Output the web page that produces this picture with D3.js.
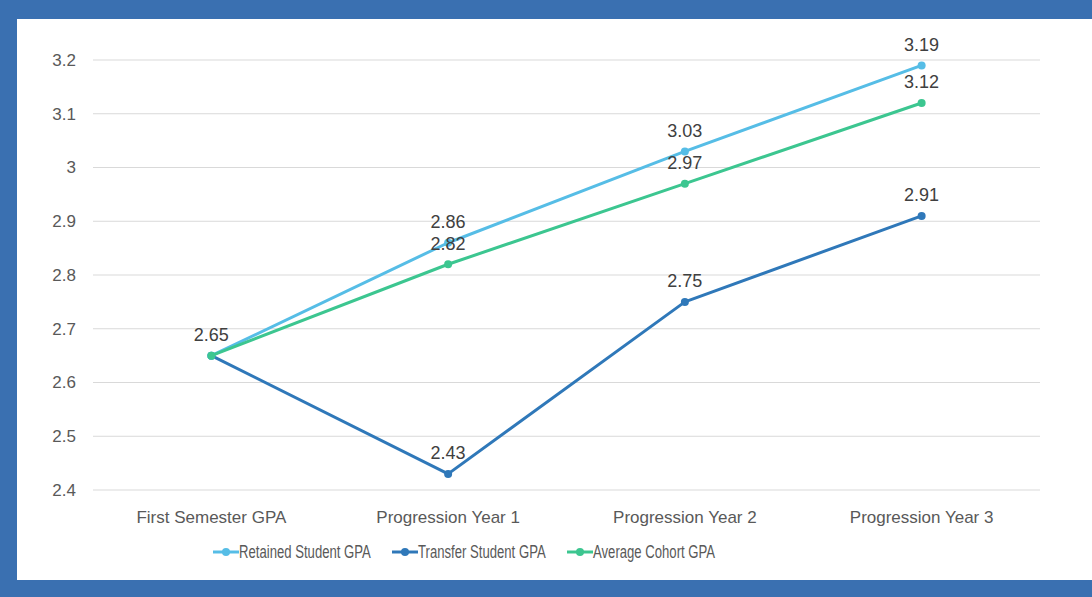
<!DOCTYPE html>
<html><head><meta charset="utf-8">
<script src="https://cdn.jsdelivr.net/npm/d3@7"></script>
<style>body{margin:0;background:#fff}svg{display:block}</style>
</head><body><svg id="c" width="1092" height="597"></svg>
<script>
const categories = ["First Semester GPA","Progression Year 1","Progression Year 2","Progression Year 3"];
const retained = [2.65, 2.86, 3.03, 3.19];
const transfer = [2.65, 2.43, 2.75, 2.91];
const average = [2.65, 2.82, 2.97, 3.12];
const yTicks = [2.4, 2.5, 2.6, 2.7, 2.8, 2.9, 3, 3.1, 3.2];
const seriesNames = ["Retained Student GPA","Transfer Student GPA","Average Cohort GPA"];
const colors = ["#56bde6","#2f78b9","#3cc690"];

const svg = d3.select("#c");
const W = 1092, H = 597;
svg.append("rect").attr("width",W).attr("height",H).attr("fill","#3a70b1");
svg.append("rect").attr("x",17).attr("y",19).attr("width",W-17).attr("height",561).attr("fill","#fff");

const x = d3.scaleBand().domain(categories).range([93,1040]);
const y = d3.scaleLinear().domain([2.4,3.2]).range([490,60]);
const font = "Liberation Sans, Arial, sans-serif";

svg.append("g").selectAll("line").data(yTicks).enter().append("line")
  .attr("x1",93).attr("x2",1040).attr("y1",d=>y(d)).attr("y2",d=>y(d))
  .attr("stroke","#d9d9d9").attr("stroke-width",1.2);

const yAxis = d3.axisLeft(y).tickValues(yTicks).tickSize(0).tickPadding(0).tickFormat(d=>String(d));
const ya = svg.append("g").attr("transform","translate(76,0)").call(yAxis);
ya.select(".domain").remove();
ya.selectAll("text").attr("font-family",font).attr("font-size",17).attr("fill","#595959");

const xAxis = d3.axisBottom(x).tickSize(0).tickPadding(0);
const xa = svg.append("g").attr("transform","translate(0,517)").call(xAxis);
xa.select(".domain").remove();
xa.selectAll("text").attr("font-family",font).attr("font-size",17).attr("fill","#595959").attr("dy","0.35em");

const cx = i => x(categories[i]) + x.bandwidth()/2;
const allSeries = [retained, transfer, average];
const line = d3.line().x((d,i)=>cx(i)).y(d=>y(d));

[1,0,2].forEach(si=>{
  const data = allSeries[si];
  svg.append("path").datum(data).attr("d",line).attr("fill","none")
    .attr("stroke",colors[si]).attr("stroke-width",3).attr("stroke-linejoin","round");
  svg.selectAll(null).data(data).enter().append("circle")
    .attr("cx",(d,i)=>cx(i)).attr("cy",d=>y(d)).attr("r",4).attr("fill",colors[si]);
});
[0,1,2].forEach(si=>{
  const pts = allSeries[si].map((v,i)=>({v,i})).filter(p=>!(p.i===0 && si!==0));
  svg.selectAll(null).data(pts).enter().append("text")
    .attr("x",p=>cx(p.i)).attr("y",p=>y(p.v)-21).attr("dy","0.35em")
    .attr("text-anchor","middle").attr("font-family",font).attr("font-size",18).attr("fill","#404040")
    .text(p=>p.v.toFixed(2));
});

const legendX = [213, 392, 567];
seriesNames.forEach((n,i)=>{
  const lg = svg.append("g").attr("transform",`translate(${legendX[i]},552)`);
  lg.append("line").attr("x1",0).attr("x2",26).attr("stroke",colors[i]).attr("stroke-width",3);
  lg.append("circle").attr("cx",13).attr("r",4).attr("fill",colors[i]);
  lg.append("text").attr("transform","translate(26,0) scale(0.71,1)").attr("dy","0.35em")
    .attr("font-family",font).attr("font-size",18.5).attr("fill","#595959").text(n);
});
</script></body></html>
